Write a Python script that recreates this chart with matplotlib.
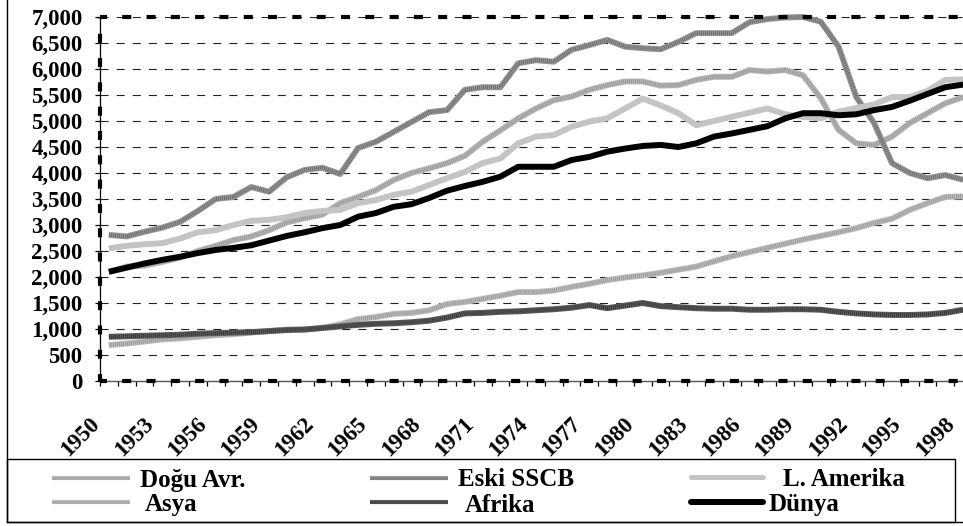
import matplotlib
matplotlib.use('Agg')
import matplotlib.pyplot as plt
from matplotlib.lines import Line2D
from matplotlib.patches import Rectangle
import matplotlib.transforms as mtransforms

plt.rcParams['font.family'] = ['Liberation Serif', 'DejaVu Serif']
plt.rcParams['font.weight'] = 'bold'
plt.rcParams['lines.scale_dashes'] = False

# ---------------- data ----------------
years = list(range(1950, 1999))
year_labels = list(range(1950, 1999, 3))

dogu_avr = [2100, 2200, 2220, 2290, 2370, 2500, 2600, 2710, 2780, 2900,
            3050, 3130, 3200, 3420, 3540, 3670, 3865, 4000, 4090, 4190,
            4330, 4600, 4820, 5050, 5240, 5400, 5470, 5600, 5690, 5760,
            5760, 5680, 5690, 5790, 5850, 5850, 5980, 5950, 5980, 5880,
            5440, 4830, 4570, 4540, 4700, 4960, 5150, 5340, 5460]
eski_sscb = [2810, 2780, 2870, 2950, 3060, 3270, 3500, 3540, 3730, 3640,
             3920, 4060, 4100, 3980, 4480, 4600, 4790, 4980, 5170, 5210,
             5600, 5650, 5650, 6110, 6170, 6140, 6370, 6460, 6560, 6430,
             6400, 6380, 6520, 6690, 6690, 6690, 6900, 6960, 6990, 7000,
             6910, 6430, 5460, 4960, 4190, 4000, 3900, 3960, 3870]
l_amerika = [2550, 2600, 2630, 2650, 2740, 2860, 2900, 3000, 3080, 3100,
             3150, 3230, 3270, 3290, 3420, 3480, 3580, 3640, 3770, 3900,
             4020, 4190, 4280, 4570, 4700, 4730, 4890, 4990, 5050, 5240,
             5430, 5300, 5150, 4920, 5000, 5080, 5160, 5240, 5130, 5080,
             5050, 5180, 5250, 5320, 5460, 5460, 5580, 5790, 5800]
asya = [690, 720, 760, 800, 820, 850, 880, 900, 930, 960,
        990, 990, 1020, 1090, 1190, 1230, 1290, 1310, 1360, 1480,
        1520, 1580, 1640, 1710, 1710, 1740, 1810, 1870, 1940, 1990,
        2030, 2080, 2140, 2200, 2300, 2400, 2480, 2560, 2640, 2720,
        2790, 2860, 2940, 3040, 3120, 3290, 3420, 3540, 3550]
afrika = [850, 860, 870, 880, 890, 910, 920, 930, 940, 960,
          980, 990, 1020, 1050, 1080, 1100, 1110, 1130, 1160, 1220,
          1300, 1310, 1330, 1340, 1360, 1380, 1410, 1460, 1400, 1450,
          1500, 1440, 1420, 1400, 1390, 1390, 1370, 1370, 1380, 1380,
          1370, 1330, 1300, 1280, 1270, 1270, 1280, 1310, 1370]
dunya = [2100, 2180, 2260, 2330, 2390, 2460, 2520, 2560, 2610, 2700,
         2790, 2860, 2940, 3000, 3160, 3230, 3350, 3400, 3520, 3660,
         3750, 3830, 3930, 4120, 4120, 4120, 4250, 4310, 4410, 4470,
         4520, 4540, 4500, 4570, 4700, 4760, 4830, 4900, 5050, 5150,
         5150, 5110, 5130, 5210, 5270, 5390, 5520, 5650, 5700]

series_names = ['Doğu Avr.', 'Eski SSCB', 'L. Amerika', 'Asya', 'Afrika', 'Dünya']
y_ticks = list(range(0, 7001, 500))

# ---------------- figure ----------------
W, H = 963, 526
fig = plt.figure(figsize=(W / 100, H / 100), dpi=100)
fig.patch.set_facecolor('white')


def fx(x):
    return x / W


def fy(y):
    return 1 - y / H


ax_l, ax_r, ax_t, ax_b = 100, 972, 17, 381
ax = fig.add_axes([fx(ax_l), fy(ax_b), (ax_r - ax_l) / W, (ax_b - ax_t) / H])
ax.set_xlim(1949.5, 1998.5)
ax.set_ylim(0, 7000)
for s in ax.spines.values():
    s.set_visible(False)

# grid lines
for v in y_ticks[1:]:
    ax.axhline(v, color='#222222', lw=0.8, ls=(0, (5.8, 5.8)), zorder=1)

# axis lines
ax.plot([0, 0], [0, 1], transform=ax.transAxes, color='black', lw=0.9,
        clip_on=False, zorder=2)
ax.plot([0, 1], [0, 0], transform=ax.transAxes, color='#555555', lw=1.0,
        clip_on=False, zorder=2)

# thick dashed plot-area border
for xs, ys in (([0, 1], [1, 1]), ([0, 0], [0, 1]), ([0, 1], [0, 0])):
    ax.plot(xs, ys, transform=ax.transAxes, color='black', lw=3.0,
            ls=(1.5, (6.5, 11.0)), dash_capstyle='butt', clip_on=False, zorder=6)

# styles
styles = {
    'Doğu Avr.': dict(base='#b9b9b9', dot='#8f8f8f', solid=False),
    'Eski SSCB': dict(base='#9a9a9a', dot='#606060', solid=False),
    'L. Amerika': dict(base='#c4c4c4', dot=None, solid=True),
    'Asya': dict(base='#bdbdbd', dot='#929292', solid=False),
    'Afrika': dict(base='#5e5e5e', dot='#2e2e2e', solid=False),
    'Dünya': dict(base='#000000', dot=None, solid=True),
}
data = {
    'Doğu Avr.': dogu_avr, 'Eski SSCB': eski_sscb, 'L. Amerika': l_amerika,
    'Asya': asya, 'Afrika': afrika, 'Dünya': dunya,
}

LW = 4.3
z = 3
for name in series_names:
    st = styles[name]
    ax.plot(years, data[name], color=st['base'], lw=LW, solid_joinstyle='round',
            solid_capstyle='butt', zorder=z, clip_on=False)
    if st['dot']:
        ax.plot(years, data[name], color=st['dot'], lw=LW * 0.7,
                ls=(0, (0.72, 0.72)), dash_capstyle='butt', zorder=z + 0.1,
                clip_on=False, alpha=0.8)
    z += 0.2

# ticks
ax.set_yticks(y_ticks)
ax.set_yticklabels([f'{v:,}' for v in y_ticks])
ax.tick_params(axis='y', direction='out', length=3.6, width=0.9, pad=9,
               labelsize=16.5, color='black')
ax.set_xticks([1949.5 + k for k in range(50)])
ax.tick_params(axis='x', direction='out', length=3.6, width=0.9,
               labelbottom=False, color='black')
for lab in ax.get_yticklabels():
    lab.set_fontweight('bold')

# year labels
trans = mtransforms.offset_copy(ax.transData, fig=fig, x=-12, y=-40, units='dots')
for yr in year_labels:
    ax.text(yr, 0, str(yr), transform=trans, rotation=45, rotation_mode='anchor',
            ha='right', va='center', fontsize=16.5, fontweight='bold', clip_on=False)

# outer chart border (left and bottom visible)
fig.add_artist(Line2D([fx(7), fx(7)], [fy(522), 1.0], color='black', lw=1.0,
                      transform=fig.transFigure))
fig.add_artist(Line2D([fx(7), 1.0], [fy(522), fy(522)], color='black', lw=1.0,
                      transform=fig.transFigure))
# legend box
fig.add_artist(Rectangle((fx(7), fy(522)), (955 - 7) / W, (522 - 459) / H,
                         transform=fig.transFigure, fill=False, ec='black', lw=1.0))

legend_layout = {
    'Doğu Avr.': (52, 130, 477.5, 140, 486.5),
    'Asya': (52, 130, 501.5, 145, 511.5),
    'Eski SSCB': (370, 448, 477.5, 458, 486.5),
    'Afrika': (370, 448, 501.5, 465, 511.5),
    'L. Amerika': (688, 766, 476.5, 783, 486.5),
    'Dünya': (688, 766, 501.5, 768, 511.5),
}
for name in series_names:
    x0, x1, yl, xt, yb = legend_layout[name]
    st = styles[name]
    if st['solid']:
        lw = 3.6 if name == 'L. Amerika' else 4.3
        fig.add_artist(Line2D([fx(x0 + 3), fx(x1 - 3)], [fy(yl), fy(yl)], color=st['base'],
                              lw=lw, solid_capstyle='round', transform=fig.transFigure))
    else:
        fig.add_artist(Line2D([fx(x0), fx(x1)], [fy(yl), fy(yl)], color=st['base'],
                              lw=3.0, solid_capstyle='butt', transform=fig.transFigure))
        fig.add_artist(Line2D([fx(x0), fx(x1)], [fy(yl), fy(yl)], color=st['dot'],
                              lw=2.1, ls=(0, (0.72, 0.72)), alpha=0.8,
                              transform=fig.transFigure))
    fig.text(fx(xt), fy(yb), name, fontsize=18, fontweight='bold',
             ha='left', va='baseline')

fig.savefig('out.png', dpi=100)
